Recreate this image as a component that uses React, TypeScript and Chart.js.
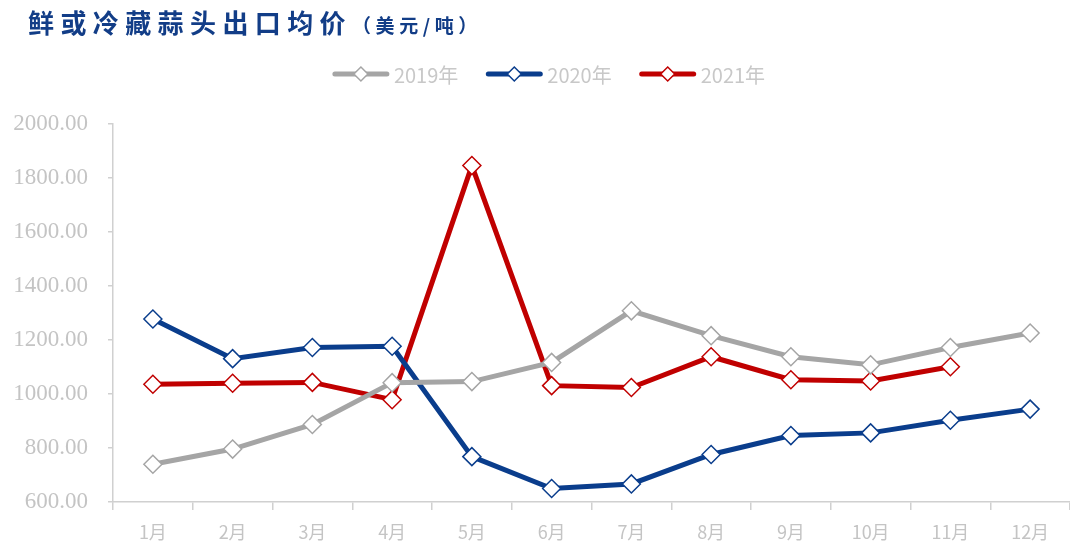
import React, { useEffect, useRef } from "react";
import { Chart, registerables } from "chart.js";

Chart.register(...registerables);

const months = ["1月", "2月", "3月", "4月", "5月", "6月", "7月", "8月", "9月", "10月", "11月", "12月"];
const series2019 = [740, 796, 887, 1042, 1046, 1117, 1308, 1216, 1138, 1108, 1172, 1226];
const series2020 = [1278, 1131, 1172, 1177, 768, 650, 667, 776, 846, 856, 903, 944];
const series2021 = [1036, 1040, 1043, 979, 1846, 1031, 1024, 1138, 1053, 1048, 1101];
const seriesNames = ["2019年", "2020年", "2021年"];
const seriesColors = ["#A5A5A5", "#0A3D8C", "#C00000"];

const legendPlugin = {
  id: "customLegend",
  afterDraw(chart: any) {
    const ctx = chart.ctx;
    ctx.save();
    ctx.font = "20px 'Noto Sans CJK SC', 'Noto Sans', sans-serif";
    const lineLen = 56;
    const gapText = 5;
    const gapItem = 28;
    const widths = seriesNames.map((n) => ctx.measureText(n).width);
    const total = widths.reduce((a, w) => a + lineLen + gapText + w, 0) + gapItem * (seriesNames.length - 1);
    let x = 549 - total / 2;
    const y = 74;
    seriesNames.forEach((name, i) => {
      const c = seriesColors[i];
      ctx.strokeStyle = c;
      ctx.lineWidth = 5;
      ctx.lineCap = "round";
      ctx.beginPath();
      ctx.moveTo(x + 2, y);
      ctx.lineTo(x + lineLen - 2, y);
      ctx.stroke();
      const cx = x + lineLen / 2;
      const r = 7;
      ctx.fillStyle = "#ffffff";
      ctx.lineWidth = 1.5;
      ctx.beginPath();
      ctx.moveTo(cx, y - r);
      ctx.lineTo(cx + r, y);
      ctx.lineTo(cx, y + r);
      ctx.lineTo(cx - r, y);
      ctx.closePath();
      ctx.fill();
      ctx.stroke();
      ctx.fillStyle = "#C8C8C8";
      ctx.textAlign = "left";
      ctx.textBaseline = "middle";
      ctx.fillText(name, x + lineLen + gapText, y + 1);
      x += lineLen + gapText + widths[i] + gapItem;
    });
    ctx.restore();
  },
};

export default function App() {
  const ref = useRef<HTMLCanvasElement>(null);
  useEffect(() => {
    if (!ref.current) return;
    const mk = (label: string, data: number[], color: string) => ({
      label,
      data,
      borderColor: color,
      backgroundColor: "#ffffff",
      borderWidth: 5,
      tension: 0,
      clip: false,
      pointStyle: "rectRot",
      pointRadius: 9,
      pointHoverRadius: 9,
      pointBorderWidth: 1.5,
      pointBorderColor: color,
      pointBackgroundColor: "#ffffff",
    });
    const chart = new Chart(ref.current, {
      type: "line",
      data: {
        labels: months,
        datasets: [
          mk(seriesNames[0], series2019, seriesColors[0]),
          mk(seriesNames[1], series2020, seriesColors[1]),
          mk(seriesNames[2], series2021, seriesColors[2]),
        ],
      },
      options: {
        animation: false,
        responsive: false,
        maintainAspectRatio: false,
        layout: { autoPadding: false, padding: { top: 124, left: 0, right: 0, bottom: 0 } },
        plugins: {
          legend: { display: false },
          title: { display: false },
          tooltip: { enabled: false },
        },
        scales: {
          x: {
            offset: true,
            grid: {
              display: true,
              drawOnChartArea: false,
              offset: true,
              tickLength: 8,
              color: "#D0D0D0",
              lineWidth: 1.5,
            },
            border: { display: true, color: "#D0D0D0", width: 1.5 },
            ticks: {
              color: "#C4C4C4",
              font: { family: "'Liberation Sans Narrow', 'Noto Sans CJK SC', sans-serif", size: 18 },
              padding: 11,
            },
            afterFit(scale: any) {
              scale.height = 41;
              scale.paddingLeft = 0;
              scale.paddingRight = 0;
            },
          },
          y: {
            min: 600,
            max: 2000,
            ticks: {
              stepSize: 200,
              color: "#C4C4C4",
              padding: 20,
              font: { family: "'Liberation Serif', 'DejaVu Serif', serif", size: 23 },
              callback: (v: any) => Number(v).toFixed(2),
            },
            grid: {
              display: true,
              drawOnChartArea: false,
              tickLength: 5,
              color: "#D0D0D0",
              lineWidth: 1.5,
            },
            border: { display: true, color: "#D0D0D0", width: 1.5 },
            afterFit(scale: any) {
              scale.width = 113;
            },
          },
        },
      },
      plugins: [legendPlugin],
    } as any);
    return () => chart.destroy();
  }, []);

  return (
    <div style={{ position: "fixed", left: 0, top: 0, width: 1070, height: 543, background: "#ffffff" }}>
      <canvas ref={ref} width={1070} height={543} style={{ position: "absolute", left: 0, top: 0, width: 1070, height: 543 }} />
      <div
        style={{
          position: "absolute",
          left: 28,
          top: 5,
          color: "#123D87",
          fontFamily: "'Noto Sans CJK SC', sans-serif",
          fontWeight: 700,
          whiteSpace: "nowrap",
          lineHeight: "34px",
        }}
      >
        <span style={{ fontSize: 26, letterSpacing: 6.4 }}>鲜或冷藏蒜头出口均价</span>
        <span style={{ fontSize: 19, letterSpacing: 4.6 }}>（美元/吨）</span>
      </div>
    </div>
  );
}
